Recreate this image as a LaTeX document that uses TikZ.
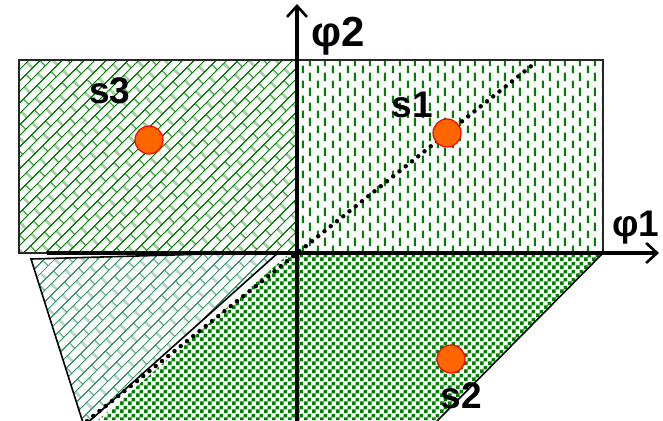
\documentclass[tikz,border=0pt]{standalone}
\usepackage{fontspec}
\setmainfont{Liberation Sans}
\usetikzlibrary{patterns.meta,arrows.meta}
\definecolor{pgreen}{RGB}{0,128,0}
\definecolor{pteal}{RGB}{51,150,100}
\definecolor{dotfill}{RGB}{255,102,0}
\tikzdeclarepattern{
  name=diagbrick, type=uncolored,
  bounding box={(0,0) and (20pt,16pt)},
  tile size={(20pt,16pt)},
  tile transformation={rotate=45},
  code={
    \draw[line width=1.2pt] (-1pt,4pt)--(21pt,4pt) (-1pt,12pt)--(21pt,12pt)
      (5pt,4pt)--(5pt,12pt) (15pt,12pt)--(15pt,17pt) (15pt,-1pt)--(15pt,4pt);
  }
}
\tikzdeclarepattern{
  name=checker, type=uncolored,
  bounding box={(0,0) and (8pt,8pt)},
  tile size={(8pt,8pt)},
  code={\fill (0,0) rectangle (4pt,4pt) (4pt,4pt) rectangle (8pt,8pt);}
}
\tikzdeclarepattern{
  name=vdash, type=uncolored,
  bounding box={(0,0) and (15pt,15pt)},
  tile size={(15pt,15pt)},
  code={\draw[line width=2.2pt] (3pt,2pt)--(3pt,10pt) (10.5pt,9.5pt)--(10.5pt,17.5pt) (10.5pt,-5.5pt)--(10.5pt,2.5pt);}
}
\tikzset{
  lbl/.style={font=\bfseries\fontsize{37}{37}\selectfont, inner sep=0pt, anchor=base},
  axislbl/.style={font=\bfseries\fontsize{42}{42}\selectfont, inner sep=0pt, anchor=base west},
  axis/.style={line width=3.4pt, -{Straight Barb[length=11pt,width=20pt,line width=2.6pt]}},
  dotpt/.style={circle, minimum size=28pt, inner sep=0pt, fill=dotfill, draw=red, line width=1.2pt},
  border/.style={draw=black!85, line width=1.4pt},
  dotline/.style={line width=4.5pt, line cap=round, dash pattern=on 0pt off 8pt},
}
\begin{document}
\begin{tikzpicture}[x=1pt,y=-1pt]
\useasboundingbox (0,0) rectangle (663,420);
% regions
\fill[pattern={diagbrick}, pattern color=pgreen] (19,60) rectangle (297,253);
\fill[pattern={vdash}, pattern color=pgreen] (297,60) rectangle (603,253);
\draw[border] (19,60) rectangle (603,253);
\fill[pattern={checker}, pattern color=pgreen] (290,253) -- (603,253) -- (437,420) -- (98,420) -- cycle;
\coordinate (br) at (603,253);
\coordinate (bb) at (437,421);
\draw[line width=1.6pt] (br) -- (bb);
\coordinate (t1) at (31,259);
\coordinate (t2) at (279,252);
\coordinate (t3) at (84,426);
\fill[pattern={diagbrick}, pattern color=pteal] (t1) -- (t2) -- (t3) -- cycle;
\draw[line width=1.6pt] (t1) -- (t2) -- (t3) -- cycle;
% dotted diagonal
\coordinate (d1) at (87,421);
\coordinate (d2) at (535,63);
\draw[dotline] (d1) -- (d2);
% axes
\coordinate (xa0) at (47,253);
\coordinate (xa1) at (659,253);
\coordinate (ya0) at (297,425);
\coordinate (ya1) at (297,4);
\draw[axis] (xa0) -- (xa1);
\draw[axis] (ya0) -- (ya1);
% labels
\node[axislbl] (phi2) at (311,47) {φ2};
\node[axislbl, font=\bfseries\fontsize{37}{37}\selectfont] (phi1) at (612,236) {φ1};
\node[lbl] (s3) at (110,103) {s3};
\node[lbl] (s1) at (412,117) {s1};
\node[lbl] (s2) at (461,408) {s2};
% points
\node[dotpt] (p3) at (149,140) {};
\node[dotpt] (p1) at (447,133) {};
\node[dotpt] (p2) at (451,359) {};
\end{tikzpicture}
\end{document}
